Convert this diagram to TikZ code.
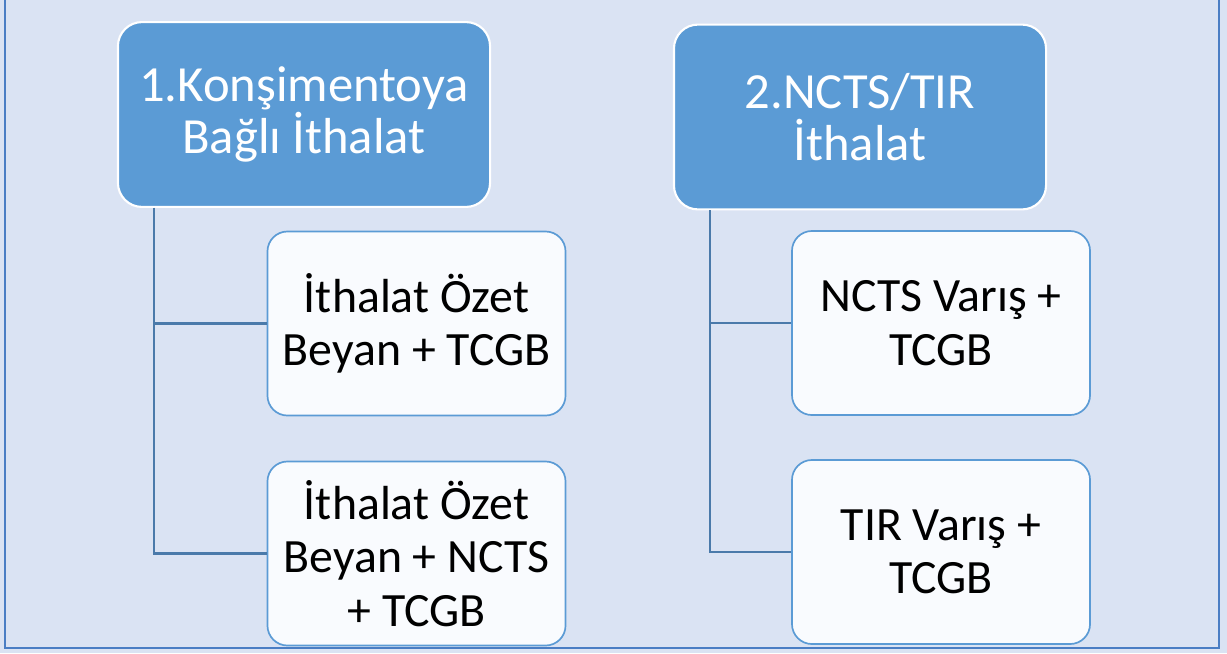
\documentclass[tikz,border=0pt]{standalone}
\usepackage{fontspec}
\setmainfont{Carlito}
\usetikzlibrary{calc,positioning}
\definecolor{pagebg}{HTML}{DAE3F3}
\definecolor{frameblue}{HTML}{4A7EC4}
\definecolor{headblue}{HTML}{5B9BD5}
\definecolor{linkblue}{HTML}{4A7AAA}
\definecolor{childbg}{HTML}{F9FBFE}
\tikzset{parentbox/.style={
            draw=white,
            fill=headblue,
            line width=1.5pt,
            rounded corners=0.6cm,
            minimum width=9.3cm,
            minimum height=4.62cm,
            align=center,
            text=white,
            font=\fontsize{36}{37}\selectfont
        },
        childbox/.style={
            draw=headblue,
            fill=childbg,
            line width=1.2pt,
            rounded corners=0.5cm,
            minimum width=7.45cm,
            minimum height=4.6cm,
            align=center,
            text=black,
            font=\fontsize{34}{38}\selectfont
        },
        link/.style={
            draw=linkblue,
            line width=1.6pt
        }
    }

\begin{document}
\begin{tikzpicture}[x=0.025cm,y=-0.025cm]
        \useasboundingbox (0,0) rectangle (1227,653);
        \fill[pagebg] (0,0) rectangle (1227,653);
        \draw[frameblue,line width=1.5pt] (5,-10) -- (5,648) -- (1219,648) -- (1219,-10);

        % left group
        \node[parentbox] at (304,114.5) (p1) {1.Konşimentoya\\Bağlı İthalat};
        \node[childbox] at (416.5,323.5) (c1) {İthalat Özet\\Beyan + TCGB};
        \node[childbox] at (416.5,553.5) (c2) {İthalat Özet\\Beyan + NCTS\\+ TCGB};
        \draw[link] ($(p1.south west)+(37,0)$) |- (c1.west);
        \draw[link] ($(p1.south west)+(37,0)$) |- (c2.west);

        % right group
        \node[parentbox] at (860,117) (p2) {2.NCTS/TIR\\İthalat};
        \node[childbox] at (941,323) (c3) {NCTS Varış +\\TCGB};
        \node[childbox] at (941,552) (c4) {TIR Varış +\\TCGB};
        \draw[link] ($(p2.south west)+(37,0)$) |- (c3.west);
        \draw[link] ($(p2.south west)+(37,0)$) |- (c4.west);
    \end{tikzpicture}
\end{document}
